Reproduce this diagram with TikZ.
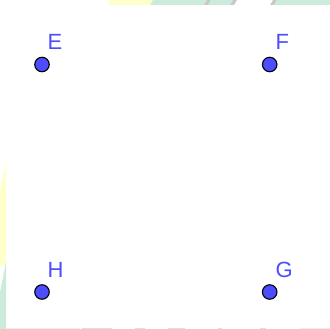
\documentclass[tikz,border=0pt]{standalone}
\usepackage{fontspec}
\setmainfont{Liberation Sans}
\definecolor{ptblue}{RGB}{77,77,255}
\definecolor{bgyellow}{RGB}{255,255,204}
\definecolor{bggreen}{RGB}{204,235,218}
\definecolor{bggray}{RGB}{200,200,200}
\begin{document}
\begin{tikzpicture}[x=1pt,y=-1pt,
  pt/.style={circle,fill=ptblue,draw=black,line width=1.1pt,inner sep=0pt,minimum size=14.5pt},
  lbl/.style={text=ptblue,font=\fontsize{22}{24}\selectfont,inner sep=0pt,anchor=base west}]
\useasboundingbox (0,0) rectangle (330,329);
% faint background fragments
\fill[bgyellow] (110,0) -- (153,0) -- (150,5) -- (108,5) -- cycle;
\fill[bggreen] (153,0) -- (207,0) -- (204,5) -- (150,5) -- cycle;
\fill[bggray] (207,0) -- (211,0) -- (208,5) -- (204,5) -- cycle;
\fill[bggreen] (211,0) -- (233,0) -- (230,5) -- (208,5) -- cycle;
\fill[bggray] (233,0) -- (237,0) -- (234,5) -- (230,5) -- cycle;
\fill[bggray] (273,0) -- (277,0) -- (274,5) -- (270,5) -- cycle;
\fill[bggreen] (277,0) -- (330,0) -- (330,5) -- (274,5) -- cycle;
\fill[bgyellow] (6,163) -- (6,265) -- (0,265) -- (0,190) -- cycle;
\fill[bggreen] (6,262) -- (6,329) -- (0,329) -- (0,292) -- cycle;
\fill[bggreen!60] (6,327.5) rectangle (80,329);
\fill[bggray!60] (82,327.5) rectangle (112,329);
\fill[bggray!60] (135,327.5) rectangle (145,329);
\fill[bggray!60] (168,327.5) rectangle (185,329);
\fill[bggray!60] (218,327.5) rectangle (222,329);
\fill[bggray!60] (260,327.5) rectangle (266,329);
\fill[bggreen!60] (300,327.5) rectangle (330,329);
% points
\node[pt] (E) at (42,64.5) {};
\node[pt] (F) at (269.7,64.5) {};
\node[pt] (H) at (42,292) {};
\node[pt] (G) at (269.7,292) {};
% labels
\node[lbl] (lE) at (47.5,50) {E};
\node[lbl] (lF) at (275.5,50) {F};
\node[lbl] (lH) at (47.5,277.3) {H};
\node[lbl] (lG) at (275.5,277.3) {G};
\end{tikzpicture}
\end{document}
